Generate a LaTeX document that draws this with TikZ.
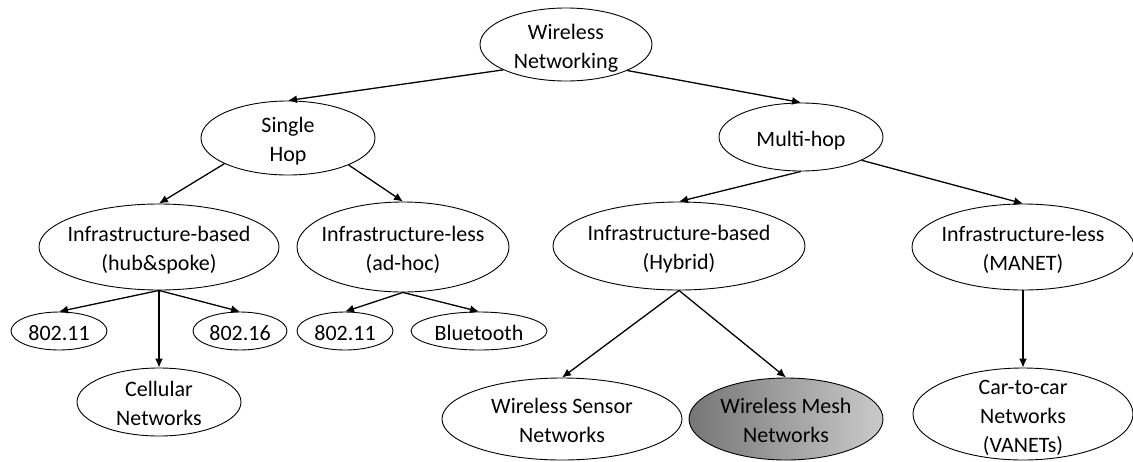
\documentclass[tikz,border=0pt]{standalone}
\usepackage{fontspec}
\setmainfont{Carlito}
\usetikzlibrary{shapes.geometric,arrows.meta}
\newcommand{\tx}[1]{\smash{\makebox[0pt]{\raisebox{-8.5pt}{\begin{tabular}{@{}c@{}}#1\end{tabular}}}}}
\definecolor{meshdark}{RGB}{118,118,118}
\definecolor{meshlight}{RGB}{202,202,202}
\begin{document}
\begin{tikzpicture}[x=1pt,y=-1pt,
  el/.style={draw, ellipse, inner sep=0pt, line width=0.9pt, font=\fontsize{22}{29}\selectfont},
  arr/.style={-{Latex[length=9pt,width=8pt]}, line width=1.3pt}]
\useasboundingbox (0,0) rectangle (1133,461);
\node[el, minimum width=172pt, minimum height=73pt] (root) at (566,44.5) {\tx{Wireless\\Networking}};
\node[el, minimum width=174pt, minimum height=74pt] (sh) at (288,138) {\tx{Single\\Hop}};
\node[el, minimum width=164pt, minimum height=68pt] (mh) at (801,137) {\tx{Multi-hop}};
\node[el, minimum width=240pt, minimum height=86pt] (hub) at (159,247) {\tx{Infrastructure-based\\(hub\&spoke)}};
\node[el, minimum width=212pt, minimum height=90pt] (adhoc) at (403,247) {\tx{Infrastructure-less\\(ad-hoc)}};
\node[el, minimum width=252pt, minimum height=88pt] (hyb) at (679,246) {\tx{Infrastructure-based\\(Hybrid)}};
\node[el, minimum width=222pt, minimum height=86pt] (manet) at (1023,247) {\tx{Infrastructure-less\\(MANET)}};
\node[el, minimum width=96pt, minimum height=38pt] (wa) at (59,331) {\tx{802.11}};
\node[el, minimum width=94pt, minimum height=38pt] (wb) at (240,331) {\tx{802.16}};
\node[el, minimum width=96pt, minimum height=38pt] (wc) at (345,331) {\tx{802.11}};
\node[el, minimum width=136pt, minimum height=38pt] (bt) at (479,331) {\tx{Bluetooth}};
\node[el, minimum width=164pt, minimum height=68pt] (cell) at (159,402) {\tx{Cellular\\Networks}};
\node[el, minimum width=240pt, minimum height=82pt] (wsn) at (562,419) {\tx{Wireless Sensor\\Networks}};
\node[el, minimum width=194pt, minimum height=82pt, left color=meshdark, right color=meshlight] (wmn) at (786,419) {\tx{Wireless Mesh\\Networks}};
\node[el, minimum width=220pt, minimum height=92pt] (car) at (1023,414) {\tx{Car-to-car\\Networks\\(VANETs)}};

\draw[arr] (root.202.5) -- (sh.north);
\draw[arr] (root.337) -- (mh.north);
\draw[arr] (sh.202) -- (hub.north);
\draw[arr] (sh.336) -- (adhoc.north);
\draw[arr] (mh.south) -- (hyb.north);
\draw[arr] (mh.339) -- (manet.north);
\draw[arr] (hub.south) -- (wa.north);
\draw[arr] (hub.south) -- (wb.north);
\draw[arr] (hub.south) -- (cell.north);
\draw[arr] (adhoc.south) -- (wc.north);
\draw[arr] (adhoc.south) -- (bt.north);
\draw[arr] (hyb.south) -- (wsn.north);
\draw[arr] (hyb.south) -- (wmn.north);
\draw[arr] (manet.south) -- (car.north);
\end{tikzpicture}
\end{document}
